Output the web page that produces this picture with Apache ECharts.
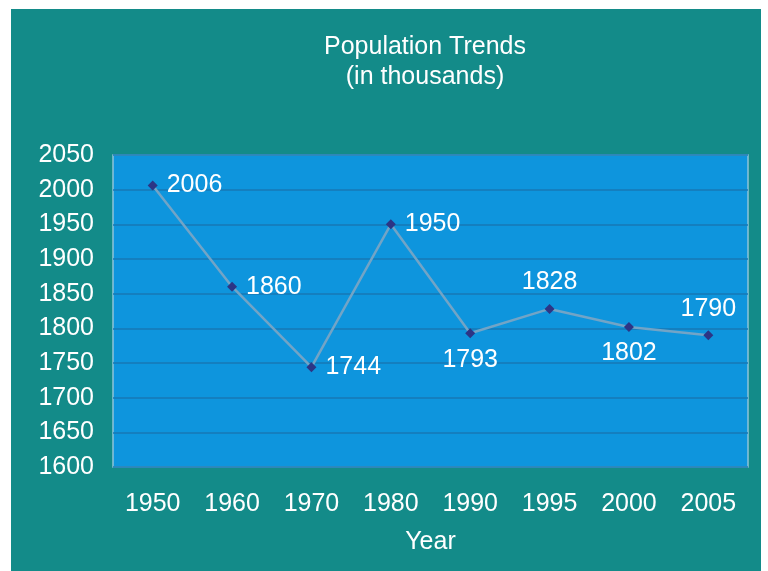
<!DOCTYPE html>
<html>
<head>
<meta charset="utf-8">
<title>Population Trends</title>
<script src="https://cdn.jsdelivr.net/npm/echarts@6/dist/echarts.min.js"></script>
<style>
  html, body { margin: 0; padding: 0; background: #ffffff; }
  #chart { width: 768px; height: 571px; }
</style>
</head>
<body>
<div id="chart"></div>
<script>
// data
var years = ['1950', '1960', '1970', '1980', '1990', '1995', '2000', '2005'];
var population = [2006, 1860, 1744, 1950, 1793, 1828, 1802, 1790];
var labelPos = ['right', 'right', 'right', 'right', 'bottom', 'top', 'bottom', 'top'];

var font = '"Liberation Sans", Arial, sans-serif';

var chart = document.getElementById('chart');
if (chart == null) {
    throw "ERROR! getElementById() Null: chart";
}
var myChart = echarts.init(chart);

var points = [];
for (var i = 0; i < population.length; i++) {
    points.push({
        value: population[i],
        label: { position: labelPos[i] }
    });
}

var option = {
    animation: false,
    graphic: [
        {
            type: 'rect',
            z: -10,
            silent: true,
            shape: { x: 11, y: 9, width: 750, height: 562 },
            style: { fill: '#138b89' }
        }
    ],
    title: {
        text: 'Population Trends\n(in thousands)',
        left: 420,
        textAlign: 'center',
        top: 27,
        textStyle: {
            color: '#ffffff',
            fontFamily: font,
            fontWeight: 'normal',
            fontSize: 25,
            lineHeight: 30
        }
    },
    grid: {
        left: 113,
        top: 155,
        right: 20,
        bottom: 104,
        show: true,
        backgroundColor: '#0e95dd',
        borderColor: '#8fc3d8',
        borderWidth: 1.5
    },
    xAxis: {
        type: 'category',
        data: years,
        boundaryGap: true,
        name: 'Year',
        nameLocation: 'middle',
        nameGap: 63,
        nameTextStyle: { color: '#ffffff', fontFamily: font, fontSize: 25 },
        axisLine: { show: false },
        axisTick: { show: false },
        axisLabel: { color: '#ffffff', fontFamily: font, fontSize: 25, margin: 25 }
    },
    yAxis: {
        type: 'value',
        min: 1600,
        max: 2050,
        interval: 50,
        axisLine: { show: false },
        axisTick: { show: false },
        axisLabel: {
            color: '#ffffff',
            fontFamily: font,
            fontSize: 25,
            margin: 19,
            formatter: function (v) { return String(v); }
        },
        splitLine: { lineStyle: { color: '#1778b4', width: 1.5 } }
    },
    series: [
        {
            name: 'Population',
            type: 'line',
            data: points,
            symbol: 'diamond',
            symbolSize: 10,
            itemStyle: { color: '#2c3585' },
            lineStyle: { color: '#72a4c6', width: 2.5 },
            label: {
                show: true,
                color: '#ffffff',
                fontFamily: font,
                fontSize: 25,
                distance: 9
            }
        }
    ]
};

myChart.setOption(option);
</script>
</body>
</html>
